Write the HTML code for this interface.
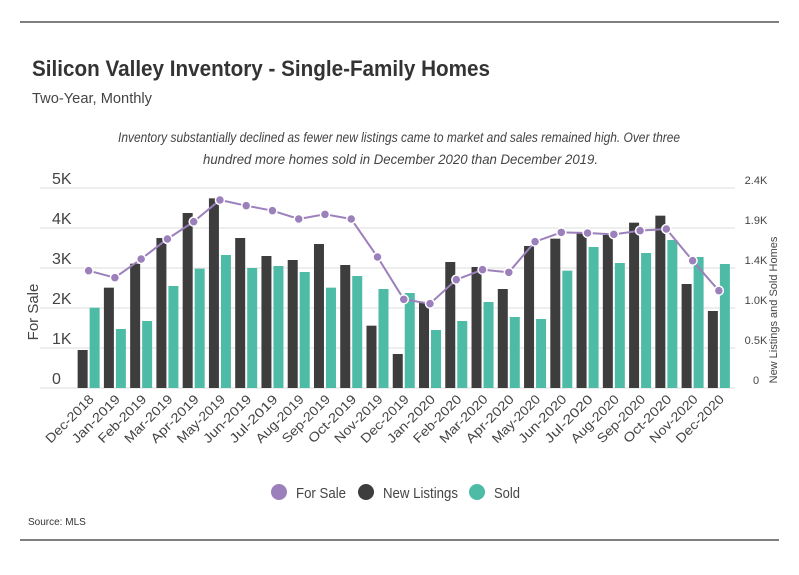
<!DOCTYPE html>
<html><head><meta charset="utf-8"><style>
body{margin:0;background:#fff;font-family:"Liberation Sans",sans-serif;}
#wrap{position:relative;width:799px;height:575px;overflow:hidden;background:#fff;}
</style></head><body>
<div id="wrap">
<svg id="chart" width="799" height="575" xmlns="http://www.w3.org/2000/svg">
<line x1="20" y1="22" x2="779" y2="22" stroke="#333" stroke-width="1.2"/>
<line x1="20" y1="540" x2="779" y2="540" stroke="#333" stroke-width="1.2"/>
<text x="32" y="76" font-size="22" font-weight="bold" fill="#333" textLength="458" lengthAdjust="spacingAndGlyphs">Silicon Valley Inventory - Single-Family Homes</text>
<text x="32" y="103" font-size="15" fill="#444" textLength="120" lengthAdjust="spacingAndGlyphs">Two-Year, Monthly</text>
<text x="118" y="142" font-size="14" font-style="italic" fill="#444" textLength="562" lengthAdjust="spacingAndGlyphs">Inventory substantially declined as fewer new listings came to market and sales remained high. Over three</text>
<text x="203" y="164" font-size="14" font-style="italic" fill="#444" textLength="395" lengthAdjust="spacingAndGlyphs">hundred more homes sold in December 2020 than December 2019.</text>
<g id="grid"></g><g id="bars"></g><g id="line"></g><g id="axes"></g>
<text transform="translate(38,312) rotate(-90)" font-size="15" fill="#444" text-anchor="middle">For Sale</text>
<text transform="translate(777,310) rotate(-90)" font-size="11" fill="#444" text-anchor="middle">New Listings and Sold Homes</text>
<g>
<g><circle cx="279" cy="492" r="8" fill="#9b80bb"/><text x="296" y="498" font-size="15" fill="#444" textLength="50" lengthAdjust="spacingAndGlyphs">For Sale</text></g>
<g><circle cx="366" cy="492" r="8" fill="#3d3d3d"/><text x="383" y="498" font-size="15" fill="#444" textLength="75" lengthAdjust="spacingAndGlyphs">New Listings</text></g>
<g><circle cx="477" cy="492" r="8" fill="#4dbba6"/><text x="494" y="498" font-size="15" fill="#444" textLength="26" lengthAdjust="spacingAndGlyphs">Sold</text></g>
</g>
<text x="28" y="525" font-size="10" fill="#333">Source:  MLS</text>
</svg>
</div>
<script>
const categories=["Dec-2018","Jan-2019","Feb-2019","Mar-2019","Apr-2019","May-2019","Jun-2019","Jul-2019","Aug-2019","Sep-2019","Oct-2019","Nov-2019","Dec-2019","Jan-2020","Feb-2020","Mar-2020","Apr-2020","May-2020","Jun-2020","Jul-2020","Aug-2020","Sep-2020","Oct-2020","Nov-2020","Dec-2020"];
const newListings=[456,1204,1492,1800,2100,2276,1800,1584,1536,1728,1476,748,408,1024,1512,1452,1188,1704,1792,1856,1836,1984,2068,1248,924];
const sold=[964,708,804,1224,1432,1596,1440,1464,1392,1204,1344,1188,1140,696,804,1032,852,828,1408,1692,1500,1620,1776,1572,1488];
const forSale=[2933,2758,3225,3725,4158,4700,4558,4433,4225,4342,4225,3275,2217,2108,2708,2958,2892,3658,3892,3875,3842,3933,3975,3183,2433];
const leftTicks=[0,1000,2000,3000,4000,5000];
const leftTickLabels=["0","1K","2K","3K","4K","5K"];
const rightTicks=[0,480,960,1440,1920,2400];
const rightTickLabels=["0","0.5K","1.0K","1.4K","1.9K","2.4K"];
const NS="http://www.w3.org/2000/svg";
const x0=75.5,band=26.26,yBase=388,yTop=188;
const xC=i=>x0+band*(i+0.5);
const yL=v=>yBase-(v/5000)*(yBase-yTop);
const yR=v=>yBase-(v/2400)*(yBase-yTop);
function mk(tag,attrs,parent){const e=document.createElementNS(NS,tag);for(const k in attrs)e.setAttribute(k,attrs[k]);parent.appendChild(e);return e;}
const grid=document.getElementById('grid'),axes=document.getElementById('axes'),bars=document.getElementById('bars'),line=document.getElementById('line');
leftTicks.forEach((t,i)=>{
 const gl=mk('line',{x1:40,x2:735,y1:yL(t),y2:yL(t),stroke:'#ddd','stroke-width':1},grid);
 
 
 const lt=mk('text',{x:52,y:yL(t)-4,'font-size':16,fill:'#444'},axes);
 lt.textContent=leftTickLabels[i];
 
 
});
rightTicks.forEach((t,i)=>{
 const rt=mk('text',{x:756,y:yR(t)-4,'font-size':11,fill:'#444','text-anchor':'middle'},axes);
 rt.textContent=rightTickLabels[i];
 
 
});
categories.forEach((c,i)=>{
 const cx=xC(i);
 const b1=mk('rect',{x:cx-11,y:yR(newListings[i]),width:10,height:yBase-yR(newListings[i]),fill:'#3d3d3d'},bars);
 
 
 const b2=mk('rect',{x:cx+1,y:yR(sold[i]),width:10,height:yBase-yR(sold[i]),fill:'#4dbba6'},bars);
 
 
 const xl=mk('text',{transform:`translate(${cx+6},${yBase+12}) rotate(-45)`,'font-size':13,fill:'#444','text-anchor':'end',textLength:62,lengthAdjust:'spacingAndGlyphs'},axes);
 xl.textContent=c;
 
 
});
const pts=forSale.map((v,i)=>xC(i)+','+yL(v)).join(' ');
const pl=mk('polyline',{points:pts,fill:'none',stroke:'#9b80bb','stroke-width':2},line);


forSale.forEach((v,i)=>{
 const p=mk('circle',{cx:xC(i),cy:yL(v),r:4.5,fill:'#9b80bb',stroke:'#fff','stroke-width':1.5},line);
 
 
});
</script>
</body></html>
